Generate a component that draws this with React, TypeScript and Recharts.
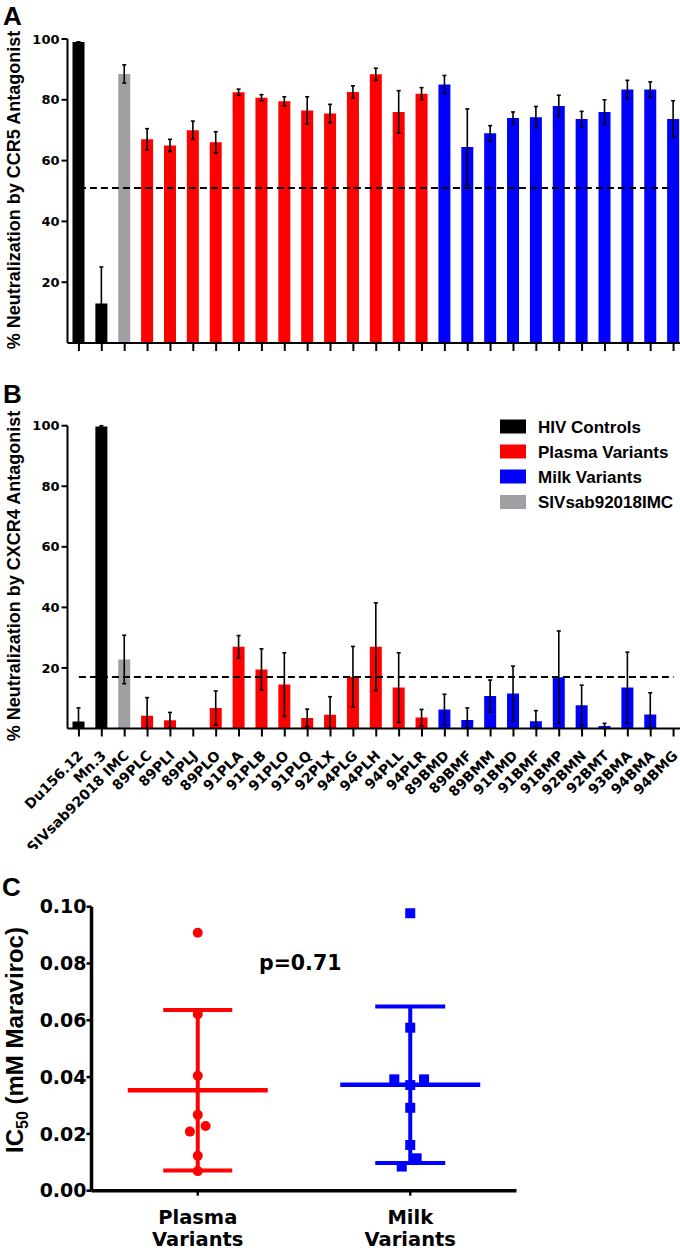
import React from 'react';
import { BarChart, Bar, XAxis, YAxis, Cell, ErrorBar, ReferenceLine, ScatterChart, Scatter } from 'recharts';

// ---------- data ----------
const variantNames = [
  'Du156.12', 'Mn.3', 'SIVsab92018 IMC',
  '89PLC', '89PLI', '89PLJ', '89PLO', '91PLA', '91PLB', '91PLO', '91PLQ', '92PLX', '94PLG', '94PLH', '94PLL', '94PLR',
  '89BMD', '89BMF', '89BMM', '91BMD', '91BMF', '91BMP', '92BMN', '92BMT', '93BMA', '94BMA', '94BMG',
];
const variantGroups = [
  'hiv', 'hiv', 'siv',
  'plasma', 'plasma', 'plasma', 'plasma', 'plasma', 'plasma', 'plasma', 'plasma', 'plasma', 'plasma', 'plasma', 'plasma', 'plasma',
  'milk', 'milk', 'milk', 'milk', 'milk', 'milk', 'milk', 'milk', 'milk', 'milk', 'milk',
];
const groupColors: Record<string, string> = { hiv: '#000000', plasma: '#ff0000', milk: '#0000ff', siv: '#a0a0a4' };
const legendGroups = ['hiv', 'plasma', 'milk', 'siv'];
const legendLabels = ['HIV Controls', 'Plasma Variants', 'Milk Variants', 'SIVsab92018IMC'];

const ccr5Mean = [99, 13, 88.5, 67, 65, 70, 66, 82.5, 80.7, 79.5, 76.5, 75.5, 82.6, 88.4, 76, 82, 85, 64.5, 69, 74, 74.3, 78, 73.7, 76, 83.4, 83.4, 73.7];
const ccr5Sd = [0, 12, 3, 3.5, 2, 3, 3.5, 1, 1, 1.5, 4.5, 3, 2, 2, 7, 2, 3, 12.5, 2.5, 2, 3.5, 3.5, 2.5, 4, 3, 2.5, 6];
const cxcr4Mean = [2.3, 99.7, 22.8, 4.2, 2.7, 0, 6.8, 27, 19.5, 14.5, 3.5, 4.5, 17.1, 27, 13.5, 3.6, 6.3, 2.8, 10.7, 11.6, 2.4, 16.9, 7.7, 0.8, 13.5, 4.6, 0];
const cxcr4Sd = [4.5, 0.3, 8, 6, 2.6, 0, 5.6, 3.7, 6.8, 10.5, 2.9, 6, 10, 14.5, 11.5, 2.7, 5, 4, 5.3, 9, 3.5, 15.3, 6.6, 0.9, 11.7, 7.2, 0];
const ccr5Cutoff = 51;
const cxcr4Cutoff = 17;
const pctTicks = [20, 40, 60, 80, 100];

const plasmaIC50 = [0.0908, 0.0621, 0.0405, 0.0267, 0.0208, 0.0228, 0.0123, 0.0069];
const plasmaJitter = [0, 0, 0, 0, -0.037, 0.037, 0, 0];
const milkIC50 = [0.0977, 0.0574, 0.0392, 0.0392, 0.0372, 0.0292, 0.0161, 0.0114, 0.0085];
const milkJitter = [0, 0, -0.075, 0.065, 0, 0, 0, 0.03, -0.04];
const ic50Ticks = [0, 0.02, 0.04, 0.06, 0.08, 0.1];
const groupAxisLabels = ['Plasma Variants', 'Milk Variants'];
const pValueText = 'p=0.71';

// ---------- derived tables ----------
const buildBars = (mean: number[], sd: number[]) =>
  variantNames.map((name, i) => ({
    name,
    value: mean[i],
    err: [Math.min(sd[i], mean[i]), sd[i]],
    group: variantGroups[i],
  }));
const ccr5Data = buildBars(ccr5Mean, ccr5Sd);
const cxcr4Data = buildBars(cxcr4Mean, cxcr4Sd);

const avg = (a: number[]) => a.reduce((s, v) => s + v, 0) / a.length;
const sdev = (a: number[]) => {
  const m = avg(a);
  return Math.sqrt(a.reduce((s, v) => s + (v - m) * (v - m), 0) / (a.length - 1));
};
const plasmaPoints = plasmaIC50.map((y, i) => ({ x: 1 + plasmaJitter[i], y }));
const milkPoints = milkIC50.map((y, i) => ({ x: 2 + milkJitter[i], y }));
const plasmaSummary = [{ x: 1, y: avg(plasmaIC50), sd: sdev(plasmaIC50) }];
const milkSummary = [{ x: 2, y: avg(milkIC50), sd: sdev(milkIC50) }];

// ---------- styles ----------
const BOLD_WIDE = 'DejaVu Sans, sans-serif';
const BOLD_ARIAL = 'Liberation Sans, Arial, sans-serif';
const axisStyle = { stroke: '#000', strokeWidth: 2 };

const EmptyTick = () => <g />;

const RotatedTick = (props: any) => {
  const { x, y, payload } = props;
  const ax = x + 5;
  const ay = y + 18;
  return (
    <text x={ax} y={ay} transform={`rotate(-45 ${ax} ${ay})`} textAnchor="end" fill="#000"
      fontFamily={BOLD_WIDE} fontWeight="bold" fontSize={14}>
      {payload.value}
    </text>
  );
};

const GroupTick = (props: any) => {
  const { x, y, payload } = props;
  const label = groupAxisLabels[Math.round(payload.value) - 1] || '';
  const [l1, l2] = label.split(' ');
  return (
    <text textAnchor="middle" fill="#000" fontFamily={BOLD_WIDE} fontWeight="bold" fontSize={19.5}>
      <tspan x={x} y={y + 26}>{l1}</tspan>
      <tspan x={x} y={y + 48}>{l2}</tspan>
    </text>
  );
};

const makeDot = (color: string) => (props: any) => (
  <circle cx={props.cx} cy={props.cy} r={5} fill={color} />
);
const makeSquare = (color: string) => (props: any) => (
  <rect x={props.cx - 5} y={props.cy - 5} width={10} height={10} fill={color} />
);
const makeMeanLine = (color: string) => (props: any) => (
  <line x1={props.cx - 70} x2={props.cx + 70} y1={props.cy} y2={props.cy} stroke={color} strokeWidth={4.5} />
);

function NeutralizationPanel(props: {
  data: any[]; cutoff: number; top: number; height: number; marginTop: number; xAxisHeight: number; labels: boolean;
}) {
  const { data, cutoff, top, height, marginTop, xAxisHeight, labels } = props;
  return (
    <div style={{ position: 'absolute', left: 0, top }}>
      <BarChart width={700} height={height} data={data} barSize={12}
        margin={{ top: marginTop, right: 15, bottom: 0, left: 0.5 }}>
        <XAxis dataKey="name" interval={0} height={xAxisHeight} tickSize={8}
          axisLine={axisStyle} tickLine={axisStyle}
          tick={labels ? <RotatedTick /> : <EmptyTick />} />
        <YAxis width={67} domain={[0, 100]} ticks={pctTicks} allowDataOverflow interval={0}
          tickSize={6} tickMargin={2} axisLine={axisStyle} tickLine={axisStyle}
          tick={{ fill: '#000', fontSize: 13, fontFamily: BOLD_WIDE, fontWeight: 700 }} />
        <Bar dataKey="value" isAnimationActive={false}>
          {data.map((d) => <Cell key={d.name} fill={groupColors[d.group]} />)}
          <ErrorBar dataKey="err" direction="y" width={2} stroke="#000" strokeWidth={1.6} />
        </Bar>
        <ReferenceLine
          segment={[{ x: data[0].name, y: cutoff }, { x: data[data.length - 1].name, y: cutoff }]}
          stroke="#000" strokeWidth={2} strokeDasharray="7 4" />
      </BarChart>
    </div>
  );
}

export default function App() {
  const legendRows = [426.5, 451.5, 476.5, 502];
  return (
    <div style={{ position: 'absolute', left: 0, top: 0, width: 680, height: 1253, overflow: 'hidden', background: '#fff' }}>
      <NeutralizationPanel data={ccr5Data} cutoff={ccr5Cutoff} top={0} height={360} marginTop={39} xAxisHeight={17} labels={false} />
      <NeutralizationPanel data={cxcr4Data} cutoff={cxcr4Cutoff} top={380} height={468.5} marginTop={45.7} xAxisHeight={120} labels={true} />

      <div style={{ position: 'absolute', left: 0, top: 860 }}>
        <ScatterChart width={680} height={390.7} margin={{ top: 46.7, right: 163.5, bottom: 0, left: 11.5 }}>
          <XAxis type="number" dataKey="x" domain={[0.5, 2.5]} ticks={[1, 2]} allowDataOverflow height={60}
            tickSize={5} axisLine={{ stroke: '#000', strokeWidth: 3.5 }} tickLine={{ stroke: '#000', strokeWidth: 2.5 }}
            tick={<GroupTick />} />
          <YAxis type="number" dataKey="y" domain={[0, 0.1]} ticks={ic50Ticks} allowDataOverflow interval={0} width={80}
            tickSize={5} tickMargin={0} tickFormatter={(v: number) => v.toFixed(2)}
            axisLine={{ stroke: '#000', strokeWidth: 3.5 }} tickLine={{ stroke: '#000', strokeWidth: 2.5 }}
            tick={{ fill: '#000', fontSize: 19, fontFamily: BOLD_WIDE, fontWeight: 700 }} />
          <Scatter data={plasmaSummary} shape={makeMeanLine('#ff0000')} isAnimationActive={false}>
            <ErrorBar dataKey="sd" direction="y" width={34.5} stroke="#ff0000" strokeWidth={4} />
          </Scatter>
          <Scatter data={milkSummary} shape={makeMeanLine('#0000ff')} isAnimationActive={false}>
            <ErrorBar dataKey="sd" direction="y" width={35} stroke="#0000ff" strokeWidth={4} />
          </Scatter>
          <Scatter data={plasmaPoints} shape={makeDot('#ff0000')} isAnimationActive={false} />
          <Scatter data={milkPoints} shape={makeSquare('#0000ff')} isAnimationActive={false} />
        </ScatterChart>
      </div>

      <svg width={680} height={1253} style={{ position: 'absolute', left: 0, top: 0, pointerEvents: 'none' }}>
        <g fontFamily={BOLD_ARIAL} fontWeight="bold" fill="#000">
          <text x={3} y={25} fontSize={26}>A</text>
          <text x={3} y={403} fontSize={26}>B</text>
          <text x={2} y={896} fontSize={26}>C</text>
          <text transform="translate(19.5,190) rotate(-90)" textAnchor="middle" fontSize={18}>% Neutralization by CCR5 Antagonist</text>
          <text transform="translate(19.5,576) rotate(-90)" textAnchor="middle" fontSize={18}>% Neutralization by CXCR4 Antagonist</text>
          <text transform="translate(23,1040) rotate(-90)" textAnchor="middle" fontSize={24}>
            IC<tspan fontSize={16} dy={5}>50</tspan><tspan dy={-5}> (mM Maraviroc)</tspan>
          </text>
          {legendGroups.map((g, i) => (
            <g key={g}>
              <rect x={500} y={legendRows[i] - 7} width={26} height={14} fill={groupColors[g]} />
              <text x={538} y={legendRows[i] + 6} fontSize={17}>{legendLabels[i]}</text>
            </g>
          ))}
        </g>
        <text x={259} y={969.5} fontFamily={BOLD_WIDE} fontWeight="bold" fontSize={20.5} fill="#000">{pValueText}</text>
      </svg>
    </div>
  );
}
